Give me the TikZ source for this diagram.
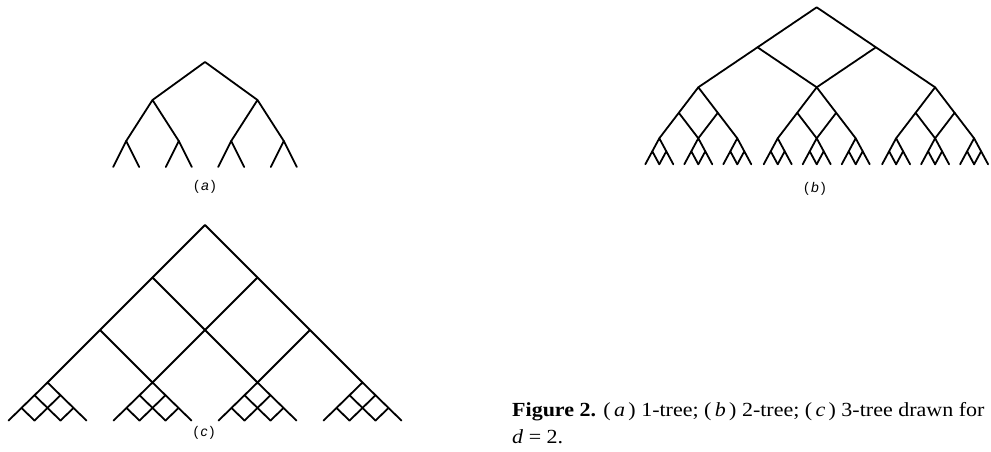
\documentclass[tikz,border=0pt]{standalone}
\usepackage{fontspec}
\setmainfont{Liberation Serif}
\newfontfamily\capfont[FakeStretch=1.1]{Liberation Serif}
\newfontfamily\labfont{Liberation Sans}
\usetikzlibrary{calc}
\tikzset{edge/.style={line width=1.8pt,line cap=round,line join=round},
  lab/.style={font=\labfont\fontsize{14}{16}\selectfont,inner sep=0pt},
  capt/.style={font=\capfont\fontsize{20}{24}\selectfont,inner sep=0pt,anchor=base west}}
% lattice: #1 prefix, #2 root coordinate, #3 levels, #4 dx, #5 dy
\newcommand{\mylatt}[5]{%
  \foreach \i in {0,...,#3} {
    \foreach \j in {0,...,\i} {
      \coordinate (#1-\i-\j) at ($(#2)+({(2*\j-\i)*#4},{\i*#5})$);
    }
  }
  \pgfmathtruncatemacro{\lm}{#3-1}
  \foreach \i in {0,...,\lm} {
    \pgfmathtruncatemacro{\ii}{\i+1}
    \foreach \j in {0,...,\i} {
      \pgfmathtruncatemacro{\jj}{\j+1}
      \draw[edge] (#1-\i-\j) -- (#1-\ii-\j) (#1-\i-\j) -- (#1-\ii-\jj);
    }
  }
}
\begin{document}
\begin{tikzpicture}[x=1pt,y=-1pt]
\useasboundingbox (0,0) rectangle (991,451);
% (a) 1-tree
\coordinate (ra) at (205,62);
\mylatt{aA}{ra}{1}{52.5}{38}
\foreach \p in {0,1} {
  \mylatt{aB\p}{aA-1-\p}{1}{26.3}{41}
  \foreach \q in {0,1} {
    \mylatt{aC\p\q}{aB\p-1-\q}{1}{13}{26}
  }
}
\node[lab] (la) at (205,187) {(\,\textit{a}\,)};
% (b) 2-tree
\coordinate (rb) at (816.7,7.3);
\mylatt{bA}{rb}{2}{59.2}{40}
\foreach \p in {0,1,2} {
  \mylatt{bB\p}{bA-2-\p}{2}{19.5}{25.5}
  \foreach \q in {0,1,2} {
    \mylatt{bC\p\q}{bB\p-2-\q}{2}{7}{13}
  }
}
\node[lab] (lb) at (815,189) {(\,\textit{b}\,)};
% (c) 3-tree
\coordinate (rc) at (205,225);
\mylatt{cA}{rc}{3}{52.5}{52.5}
\foreach \p in {0,1,2,3} {
  \mylatt{cB\p}{cA-3-\p}{3}{13}{12.7}
}
\node[lab] (lc) at (204,433) {(\,\textit{c}\,)};
% caption
\node[capt] (cap1) at (512,416) {\textbf{Figure 2.} (\,\textit{a}\,) 1-tree; (\,\textit{b}\,) 2-tree; (\,\textit{c}\,) 3-tree drawn for};
\node[capt] (cap2) at (512,443) {\textit{d} = 2.};
\end{tikzpicture}
\end{document}
